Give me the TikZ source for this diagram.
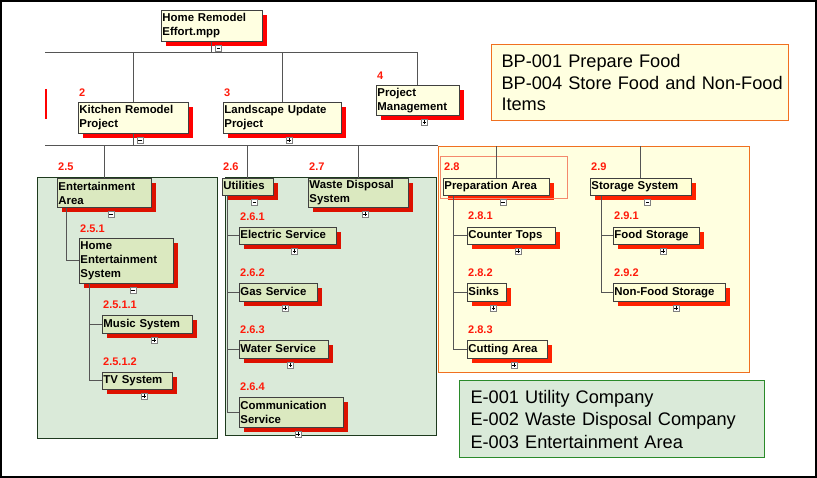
\documentclass[tikz,border=0pt]{standalone}
\usepackage{fontspec}
\setmainfont{Liberation Sans}
\usetikzlibrary{shadows}
\definecolor{nodeY}{HTML}{FFFFE1}
\definecolor{nodeG}{HTML}{DBE9C0}
\definecolor{nodeO}{HTML}{FFFFD6}
\definecolor{grpG}{HTML}{DAEAD9}
\definecolor{grpGline}{HTML}{1E3A1E}
\definecolor{grpO}{HTML}{FFFFE0}
\definecolor{grpOline}{HTML}{F07020}
\definecolor{hlC}{HTML}{F4896C}
\definecolor{eLine}{HTML}{2A8A2A}
\definecolor{boxC}{HTML}{404040}
\definecolor{connC}{HTML}{555555}
\definecolor{shR}{HTML}{FF0000}
\definecolor{shRg}{HTML}{DD1100}
\definecolor{shRo}{HTML}{FF2200}
\definecolor{labR}{HTML}{FF1A0A}
\newcommand\wbsfont{\fontsize{11.4}{14}\selectfont\bfseries}
\newcommand\labfont{\fontsize{11}{13}\selectfont\bfseries}
\newcommand\bigfont{\fontsize{18.2}{21.6}\selectfont}
\newcommand\bigfontE{\fontsize{18.2}{22.5}\selectfont}
\begin{document}
\begin{tikzpicture}[x=1pt,y=-1pt,
  every node/.style={inner sep=0pt},
  conn/.style={draw=connC, line width=1pt},
  wbs/.style={draw=boxC, line width=0.9pt, anchor=north west, inner xsep=1pt, inner ysep=1pt, align=left, font=\wbsfont, text=black},
  one/.style={text height=8.6pt, text depth=3.4pt},
  topb/.style={wbs, fill=nodeY, drop shadow={shadow xshift=5pt, shadow yshift=-5pt, fill=shR, opacity=1}},
  grnb/.style={wbs, fill=nodeG, drop shadow={shadow xshift=5pt, shadow yshift=-5pt, fill=shRg, opacity=1}},
  orgb/.style={wbs, fill=nodeO, drop shadow={shadow xshift=5pt, shadow yshift=-5pt, fill=shRo, opacity=1}},
  lab/.style={anchor=west, text=labR, font=\labfont},
  grp/.style={anchor=north west, line width=1pt},
  icn/.style={draw=gray, fill=white, line width=0.5pt, minimum size=6pt},
  icnminus/.style={icn, path picture={\draw[black, line width=0.6pt] ([xshift=-1.7pt]path picture bounding box.center) -- ([xshift=1.7pt]path picture bounding box.center);}},
  icnplus/.style={icn, path picture={\draw[black, line width=0.6pt] ([xshift=-1.7pt]path picture bounding box.center) -- ([xshift=1.7pt]path picture bounding box.center) ([yshift=-1.7pt]path picture bounding box.center) -- ([yshift=1.7pt]path picture bounding box.center);}}
]
\useasboundingbox (0,0) rectangle (817,478);
\draw[line width=2pt] (1,1) rectangle (815.5,476.5);

% group backgrounds
\node[grp, draw=grpGline, fill=grpG, minimum width=180pt, minimum height=261pt] (gEnt) at (37,177) {};
\node[grp, draw=grpGline, fill=grpG, minimum width=211pt, minimum height=258pt] (gUtil) at (225,177) {};
\node[grp, draw=grpOline, fill=grpO, minimum width=311pt, minimum height=226pt] (org) at (438,146) {};

% legend boxes
\node[grp, draw=grpOline, fill=grpO, minimum width=297pt, minimum height=76pt, text width=277pt, inner xsep=10pt, align=left, font=\bigfont] (bp) at (491,44) {\mbox{BP-001 Prepare Food}\\\mbox{BP-004 Store Food and Non-Food}\\\mbox{Items}};
\node[grp, draw=eLine, fill=grpG, minimum width=305pt, minimum height=77pt, text width=283pt, inner xsep=11pt, align=left, font=\bigfontE] (ebox) at (459,380) {\mbox{E-001 Utility Company}\\\mbox{E-002 Waste Disposal Company}\\\mbox{E-003 Entertainment Area}};

% stray red mark
\draw[red, line width=1.5pt] (46,89) -- (46,119);

% top-level nodes
\node[topb, text width=99pt, minimum height=31pt] (home) at (161,10) {Home Remodel\\Effort.mpp};
\node[topb, text width=108pt, minimum height=31pt] (kit) at (78,102) {Kitchen Remodel\\Project};
\node[topb, text width=116pt, minimum height=31pt] (land) at (223,102) {Landscape Update\\Project};
\node[topb, text width=81pt, minimum height=30pt] (pm) at (376,85) {Project\\Management};

% green nodes
\node[grnb, text width=92pt, minimum height=29pt] (ent) at (57,178) {Entertainment\\Area};
\node[grnb, text width=92pt, minimum height=45pt] (hes) at (79,238) {Home\\Entertainment\\System};
\node[grnb, one, text width=88pt, minimum height=18pt] (mus) at (102,315) {Music System};
\node[grnb, one, text width=68pt, minimum height=17pt] (tv) at (102,372) {TV System};
\node[grnb, one, text width=49pt, minimum height=17pt] (util) at (222,178) {Utilities};
\node[grnb, text width=98pt, minimum height=29pt] (waste) at (308,178) {Waste Disposal\\System};
\node[grnb, one, text width=95pt, minimum height=17pt] (elec) at (239,227) {Electric Service};
\node[grnb, one, text width=76pt, minimum height=18pt] (gas) at (239,283) {Gas Service};
\node[grnb, one, text width=87pt, minimum height=18pt] (water) at (239,340) {Water Service};
\node[grnb, text width=102pt, minimum height=30pt] (comm) at (239,397) {Communication\\Service};

% orange nodes
\node[orgb, one, text width=104pt, minimum height=17pt] (prep) at (443,178) {Preparation Area};
\node[orgb, one, text width=86pt, minimum height=17pt] (count) at (467,227) {Counter Tops};
\node[orgb, one, text width=37pt, minimum height=18pt] (sinks) at (467,283) {Sinks};
\node[orgb, one, text width=78pt, minimum height=18pt] (cut) at (467,340) {Cutting Area};
\node[orgb, one, text width=99pt, minimum height=17pt] (stor) at (590,178) {Storage System};
\node[orgb, one, text width=84pt, minimum height=17pt] (food) at (613,227) {Food Storage};
\node[orgb, one, text width=110pt, minimum height=18pt] (nonfood) at (613,283) {Non-Food Storage};

% highlight around Preparation Area
\node[grp, draw=hlC, line width=0.8pt, minimum width=127pt, minimum height=42pt] (hl) at (440,156) {};

% buses and connectors
\coordinate (b1L) at (45,53);
\coordinate (b2L) at (45,146);
\draw[conn] (home.south) -- (home.south |- b1L);
\draw[conn] (b1L) -- (b1L -| pm.north);
\draw[conn] (kit.north) -- (kit.north |- b1L);
\draw[conn] (land.north) -- (land.north |- b1L);
\draw[conn] (pm.north) -- (pm.north |- b1L);
\draw[conn] (kit.south) -- (kit.south |- b2L);
\draw[conn] (b2L) -- (b2L -| org.west);
\draw[conn] (ent.north) -- (ent.north |- b2L);
\draw[conn] (util.north) -- (util.north |- b2L);
\draw[conn] (waste.north) -- (waste.north |- b2L);
\draw[conn] (prep.north) -- (prep.north |- b2L);
\draw[conn] (stor.north) -- (stor.north |- b2L);

\draw[conn] ([xshift=9pt]ent.south west) |- (hes.west);
\draw[conn] ([xshift=10pt]hes.south west) |- (mus.west);
\draw[conn] ([xshift=10pt]hes.south west) |- (tv.west);
\draw[conn] ([xshift=5pt]util.south west) |- (elec.west);
\draw[conn] ([xshift=5pt]util.south west) |- (gas.west);
\draw[conn] ([xshift=5pt]util.south west) |- (water.west);
\draw[conn] ([xshift=5pt]util.south west) |- (comm.west);
\draw[conn] ([xshift=10pt]prep.south west) |- (count.west);
\draw[conn] ([xshift=10pt]prep.south west) |- (sinks.west);
\draw[conn] ([xshift=10pt]prep.south west) |- (cut.west);
\draw[conn] ([xshift=11pt]stor.south west) |- (food.west);
\draw[conn] ([xshift=11pt]stor.south west) |- (nonfood.west);

% expand/collapse icons
\node[icnminus] (home-i) at ([xshift=6.5pt,yshift=-6pt]home.south) {};
\node[icnminus] (kit-i) at ([xshift=6.5pt,yshift=-6pt]kit.south) {};
\node[icnplus] (land-i) at ([xshift=6.5pt,yshift=-6pt]land.south) {};
\node[icnplus] (pm-i) at ([xshift=6.5pt,yshift=-6pt]pm.south) {};
\node[icnminus] (ent-i) at ([xshift=6.5pt,yshift=-6pt]ent.south) {};
\node[icnminus] (hes-i) at ([xshift=6.5pt,yshift=-6pt]hes.south) {};
\node[icnplus] (mus-i) at ([xshift=6.5pt,yshift=-6pt]mus.south) {};
\node[icnplus] (tv-i) at ([xshift=6.5pt,yshift=-6pt]tv.south) {};
\node[icnminus] (util-i) at ([xshift=6.5pt,yshift=-6pt]util.south) {};
\node[icnplus] (waste-i) at ([xshift=6.5pt,yshift=-6pt]waste.south) {};
\node[icnplus] (elec-i) at ([xshift=6.5pt,yshift=-6pt]elec.south) {};
\node[icnplus] (gas-i) at ([xshift=6.5pt,yshift=-6pt]gas.south) {};
\node[icnplus] (water-i) at ([xshift=6.5pt,yshift=-6pt]water.south) {};
\node[icnplus] (comm-i) at ([xshift=6.5pt,yshift=-6pt]comm.south) {};
\node[icnminus] (prep-i) at ([xshift=6.5pt,yshift=-6pt]prep.south) {};
\node[icnplus] (count-i) at ([xshift=6.5pt,yshift=-6pt]count.south) {};
\node[icnplus] (sinks-i) at ([xshift=6.5pt,yshift=-6pt]sinks.south) {};
\node[icnplus] (cut-i) at ([xshift=6.5pt,yshift=-6pt]cut.south) {};
\node[icnminus] (stor-i) at ([xshift=6.5pt,yshift=-6pt]stor.south) {};
\node[icnplus] (food-i) at ([xshift=6.5pt,yshift=-6pt]food.south) {};
\node[icnplus] (nonfood-i) at ([xshift=6.5pt,yshift=-6pt]nonfood.south) {};

% WBS code labels
\node[lab] (l2) at (79,93) {2};
\node[lab] (l3) at (224,93) {3};
\node[lab] (l4) at (377,76) {4};
\node[lab] (l25) at (58,167) {2.5};
\node[lab] (l251) at (80,229) {2.5.1};
\node[lab] (l2511) at (103,305) {2.5.1.1};
\node[lab] (l2512) at (103,362) {2.5.1.2};
\node[lab] (l26) at (223,167) {2.6};
\node[lab] (l27) at (309,167) {2.7};
\node[lab] (l261) at (240,217) {2.6.1};
\node[lab] (l262) at (240,273) {2.6.2};
\node[lab] (l263) at (240,330) {2.6.3};
\node[lab] (l264) at (240,387) {2.6.4};
\node[lab] (l28) at (444,167) {2.8};
\node[lab] (l281) at (468,216) {2.8.1};
\node[lab] (l282) at (468,273) {2.8.2};
\node[lab] (l283) at (468,330) {2.8.3};
\node[lab] (l29) at (591,167) {2.9};
\node[lab] (l291) at (614,216) {2.9.1};
\node[lab] (l292) at (614,273) {2.9.2};
\end{tikzpicture}
\end{document}
